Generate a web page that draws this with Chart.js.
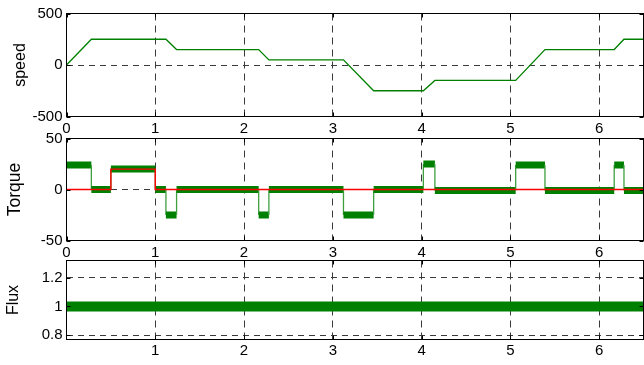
<!DOCTYPE html>
<html>
<head>
<meta charset="utf-8">
<script src="https://cdn.jsdelivr.net/npm/chart.js@4/dist/chart.umd.min.js"></script>
<style>
  html, body { margin: 0; padding: 0; background: #fff; }
  #wrap { position: relative; width: 644px; height: 365px; }
  #wrap canvas { position: absolute; left: 0; top: 0; }
</style>
</head>
<body>
<div id="wrap">
  <canvas id="cSpeed" width="644" height="365"></canvas>
  <canvas id="cTorque" width="644" height="365"></canvas>
  <canvas id="cFlux" width="644" height="365"></canvas>
</div>
<script>
// Tick values
const timeTicks = [0, 1, 2, 3, 4, 5, 6];
const fluxTimeTicks = [1, 2, 3, 4, 5, 6];
const speedTicks = [-500, 0, 500];
const torqueTicks = [-50, 0, 50];
const fluxTicks = [0.8, 1, 1.2];

// Speed profile: breakpoints of the ramp/plateau reference (time in s, speed)
const speedTimes  = [0, 0.28, 1.12, 1.24, 2.165, 2.28, 3.12, 3.46, 4.02, 4.15, 5.06, 5.39, 6.17, 6.28, 6.5];
const speedValues = [0, 250, 250, 150, 150, 50, 50, -250, -250, -150, -150, 150, 150, 250, 250];

// Electromagnetic torque: switching instants and the level held in each interval
const torqueTimes  = [0, 0.28, 0.5, 1.0, 1.12, 1.24, 2.165, 2.28, 3.12, 3.46, 4.02, 4.15, 5.06, 5.39, 6.17, 6.28, 6.5];
const torqueLevels = [24, 0, 20, 0, -25, 0, -25, 0, -25, 0, 25, -1, 24, -1, 24, -1];

// Load torque: switching instants and levels
const loadTimes  = [0, 0.5, 1.0, 6.5];
const loadLevels = [0, 20, 0];

// Stator flux magnitude
const fluxTimes  = [0, 6.5];
const fluxValues = [1, 1];

const T_MAX = 6.5;
const X_AXIS_H = 25;
const Y_AXIS_W = 66.5;
const GREEN = '#008000';

Chart.defaults.font.family = '"Liberation Sans", Arial, Helvetica, sans-serif';
Chart.defaults.font.size = 15;
Chart.defaults.color = '#000';

function linePoints(times, values) {
  return times.map((t, i) => ({ x: t, y: values[i] }));
}
function stepPoints(times, levels) {
  const pts = [];
  levels.forEach((v, i) => {
    pts.push({ x: times[i], y: v });
    pts.push({ x: times[i + 1], y: v });
  });
  return pts;
}

// Axes box with inward tick marks on all four sides
const frame = {
  id: 'frame',
  afterDraw(chart) {
    const { ctx, chartArea: a, scales: { x, y } } = chart;
    ctx.save();
    ctx.strokeStyle = '#000';
    ctx.lineWidth = 1;
    ctx.strokeRect(a.left, a.top, a.right - a.left, a.bottom - a.top);
    ctx.beginPath();
    x.ticks.forEach(t => {
      const px = Math.round(x.getPixelForValue(t.value)) + 0.5;
      ctx.moveTo(px, a.top); ctx.lineTo(px, a.top + 4);
      ctx.moveTo(px, a.bottom); ctx.lineTo(px, a.bottom - 4);
    });
    y.ticks.forEach(t => {
      const py = Math.round(y.getPixelForValue(t.value)) + 0.5;
      ctx.moveTo(a.left, py); ctx.lineTo(a.left + 4, py);
      ctx.moveTo(a.right, py); ctx.lineTo(a.right - 4, py);
    });
    ctx.stroke();
    ctx.restore();
  }
};

function gridColor(c) {
  const s = c.scale;
  if (!c.tick) return 'transparent';
  const v = c.tick.value;
  return (v <= s.min || v >= s.max) ? 'transparent' : '#3a3a3a';
}

function makePanel(id, p) {
  return new Chart(document.getElementById(id), {
    type: 'line',
    data: { datasets: p.datasets },
    plugins: [frame],
    options: {
      responsive: false,
      animation: false,
      events: [],
      layout: { padding: { left: 0, right: 0.5, top: p.top, bottom: 365 - p.bottom - X_AXIS_H } },
      plugins: { legend: { display: false }, tooltip: { enabled: false } },
      elements: { point: { radius: 0 }, line: { tension: 0 } },
      scales: {
        x: {
          type: 'linear', min: 0, max: T_MAX,
          afterBuildTicks: s => { s.ticks = p.xTicks.map(v => ({ value: v })); },
          afterFit: s => { s.height = X_AXIS_H; },
          ticks: { padding: p.xPad, maxRotation: 0, autoSkip: false, callback: v => String(v) },
          grid: { drawTicks: false, color: gridColor, lineWidth: 1 },
          border: { display: false, dash: [7, 5] }
        },
        y: {
          type: 'linear', min: p.yMin, max: p.yMax,
          afterBuildTicks: s => { s.ticks = p.yTicks.map(v => ({ value: v })); },
          afterFit: s => { s.width = Y_AXIS_W; },
          ticks: { padding: 4, autoSkip: false, callback: v => String(v) },
          grid: { drawTicks: false, color: gridColor, lineWidth: 1 },
          border: { display: false, dash: [6, 5] },
          title: {
            display: true, text: p.title,
            font: { size: p.titleSize },
            padding: { top: p.titlePad, bottom: 0 }
          }
        }
      }
    }
  });
}

const vertical = c => c.p0.parsed.x === c.p1.parsed.x;

makePanel('cSpeed', {
  top: 13.5, bottom: 116.5, yMin: -500, yMax: 500,
  xTicks: timeTicks, yTicks: speedTicks, xPad: 3,
  title: 'speed', titleSize: 16, titlePad: 10.5,
  datasets: [{
    data: linePoints(speedTimes, speedValues),
    borderColor: GREEN, borderWidth: 1.3, clip: 0
  }]
});

makePanel('cTorque', {
  top: 138.5, bottom: 240.5, yMin: -50, yMax: 50,
  xTicks: timeTicks, yTicks: torqueTicks, xPad: 3,
  title: 'Torque', titleSize: 17.5, titlePad: 5,
  datasets: [
    {
      data: stepPoints(loadTimes, loadLevels),
      borderColor: '#ff0000', borderWidth: 1.4, clip: 0
    },
    {
      data: stepPoints(torqueTimes, torqueLevels),
      borderColor: GREEN, borderWidth: 7, clip: 0,
      segment: {
        borderWidth: c => vertical(c) ? 1.3 : 7,
        borderColor: c => vertical(c) ? '#3f9f3f' : GREEN
      }
    }
  ]
});

makePanel('cFlux', {
  top: 260.5, bottom: 339.5, yMin: 0.77, yMax: 1.32,
  xTicks: fluxTimeTicks, yTicks: fluxTicks, xPad: 2,
  title: 'Flux', titleSize: 16, titlePad: 4.3,
  datasets: [{
    data: linePoints(fluxTimes, fluxValues),
    borderColor: GREEN, borderWidth: 10, clip: 0
  }]
});
</script>
</body>
</html>
